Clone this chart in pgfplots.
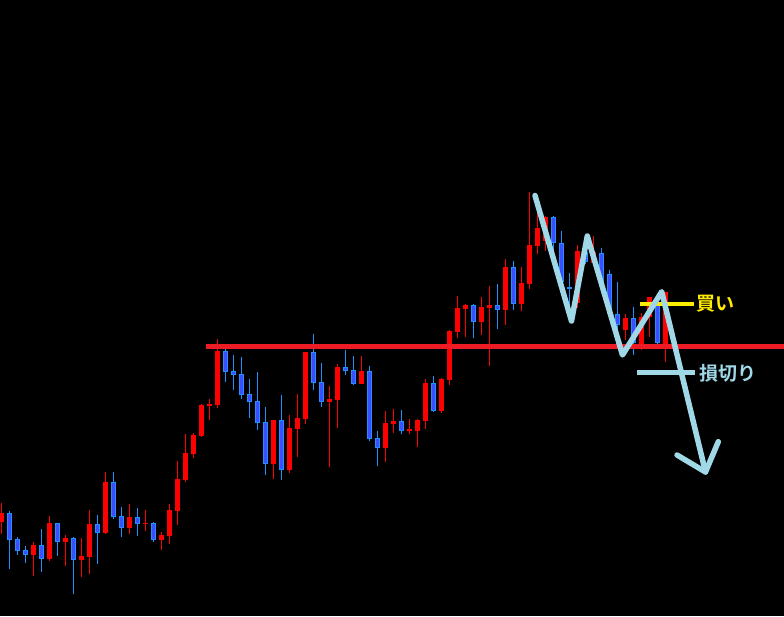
\documentclass[border=0pt]{standalone}
\usepackage{pgfplots}
\usepackage{pgfplotstable}
\usepackage{fontspec}
\pgfplotsset{compat=1.18}
\newfontfamily\cjk[BoldFont={Noto Sans CJK JP Bold}]{Noto Sans CJK JP}

\definecolor{upRed}{RGB}{255,0,0}
\definecolor{downEdge}{RGB}{30,144,255}
\definecolor{downFill}{RGB}{64,76,255}
\definecolor{levelRed}{RGB}{237,28,36}
\definecolor{buyYellow}{RGB}{255,236,0}
\definecolor{pathBlue}{RGB}{160,216,232}

% candles: index, open, high, low, close
\pgfplotstableread{
i o h l c
0 94.3 113.3 82 103.3
4 61 74 40.3 71
6 57 100 55.3 93
8 74 80.7 50 78
10 56.3 78 39.3 60
11 59 106 42.3 92
13 83 144 82.3 134
16 88.3 112 82 99
18 92.4 106 85 93
20 76 84 66 81
21 80 112 72.3 106
22 105.3 155 91.3 137
23 136 182 134.3 163
24 162.3 183 158.3 181
25 180 212 179 211
26 210 217 196 212
27 211 277 208.3 265
34 152.3 196 137 196
36 146.3 201 143.3 188
37 187.3 222 159.3 198
38 197 264 192 264
41 214.3 230 149.3 217
42 216.3 252 188.3 249
45 232 260 232 245
48 168.3 205 154.3 193
49 192.3 207 183.3 195
51 185.5 197 182.3 186.5
52 185.3 197 169.3 196
53 195.3 237 187.3 233
55 205 238 203.3 237
56 236.3 286 231.3 285
57 284.3 320 278.3 308
58 307 312 279.3 310.7
60 294.3 319 281.3 309
61 308 330 250.3 311
63 306.3 357 291.3 349
65 312.3 349 305.3 333
66 332 424 327.3 371
67 370 403 362 388
68 375 400 365 399
72 313 371 308 365
74 353 380 350 364
78 286 301.7 276 297.7
80 271 303 266 299.3
81 299.3 319.3 279.3 319.3
83 271 324.3 254.3 324.3
}\upcandles

\pgfplotstableread{
i o h l c
1 103 105 47 76.3
2 77 78.7 61 65.3
3 66 70 53.3 61.3
5 71 87 44.3 57.3
7 93 93 60 74.3
9 78 79.3 22.3 56.3
12 92 101 52.3 83.3
14 134 144 97.3 99.3
15 100 109 79.3 88.3
17 99 108 80 92.3
19 93 94 74.3 76
28 265 267 234.3 244.3
29 245 261 226 241.3
30 242 259 217 221.3
31 222 237 198 214.3
32 215 244 186 193.3
33 194 209 141 152.3
35 196 221 136.3 146.3
39 264 282 226 233.3
40 234 253 209 214.3
43 249 266 241 245.3
44 246 260 231 232
46 245 250 175 177
47 178 185 150 168.3
50 195 206 182.3 185.3
54 233 240 204.3 205.3
59 310.7 312 278.3 294.3
62 311 332 287.3 306.3
64 349 355 306.3 312.3
69 398.7 400 366 372.7
70 372.7 385 326 334.3
71 328.7 342.7 311 326.7
73 364.3 371 352 354.3
75 362.7 368.3 328 333
76 341.7 346 298 301.7
77 301.7 334.3 286 291
79 297.7 309.3 261 273
82 312.7 316 268 272.7
}\downcandles

\pgfplotsset{
  wick/.style={draw=none, forget plot, error bars/.cd, y dir=both, y explicit,
    error mark=none, error bar style={draw=#1, line width=1pt}},
  body/.style 2 args={draw=none, forget plot, error bars/.cd, y dir=both, y explicit,
    error mark=none, error bar style={draw=#1, line width=#2}},
}

\begin{document}
\begin{tikzpicture}
\begin{axis}[
    width=784pt, height=616pt, scale only axis,
    xmin=0, xmax=784, ymin=0, ymax=616,
    axis background/.style={fill=black},
    axis line style={draw=none},
    ticks=none,
  ]
  % wicks
  \addplot[wick=upRed] table[x expr=\thisrow{i}*8+1.3, y expr=(\thisrow{h}+\thisrow{l})/2,
    y error expr=(\thisrow{h}-\thisrow{l})/2] {\upcandles};
  \addplot[wick=downEdge] table[x expr=\thisrow{i}*8+1.3, y expr=(\thisrow{h}+\thisrow{l})/2,
    y error expr=(\thisrow{h}-\thisrow{l})/2] {\downcandles};
  % bodies
  \addplot[body={upRed}{5pt}] table[x expr=\thisrow{i}*8+1.3, y expr=(\thisrow{o}+\thisrow{c})/2,
    y error expr={max(abs(\thisrow{o}-\thisrow{c})/2,0.6)}] {\upcandles};
  \addplot[body={downEdge}{5pt}] table[x expr=\thisrow{i}*8+1.3, y expr=(\thisrow{o}+\thisrow{c})/2,
    y error expr={max(abs(\thisrow{o}-\thisrow{c})/2,0.6)}] {\downcandles};
  \addplot[body={downFill}{3pt}] table[x expr=\thisrow{i}*8+1.3, y expr=(\thisrow{o}+\thisrow{c})/2,
    y error expr={max(abs(\thisrow{o}-\thisrow{c})/2-1,0)}] {\downcandles};

  % level line
  \addplot[levelRed, line width=4.7pt, forget plot] coordinates {(206,269.7) (784,269.7)};
  % buy and stop lines
  \addplot[buyYellow, line width=4.5pt, forget plot] coordinates {(640,312.2) (694,312.2)};
  \addplot[pathBlue, line width=5pt, forget plot] coordinates {(637,243) (695,243)};
  % expected path
  \addplot[pathBlue, line width=5.5pt, line join=round, line cap=round, forget plot] coordinates {
    (535,420.5) (571.5,295) (587.3,380) (622.5,261) (661.7,324.3) (705.5,144)};
  \addplot[pathBlue, line width=5.5pt, line join=round, line cap=round, forget plot] coordinates {
    (677,161) (705.5,144) (718.3,174.3)};

  \node[anchor=west, inner sep=0pt, text=buyYellow, font=\cjk\bfseries\fontsize{19}{19}\selectfont]
    at (axis cs:696,312.5) {買い};
  \node[anchor=west, inner sep=0pt, text=pathBlue, font=\cjk\bfseries\fontsize{19}{19}\selectfont]
    at (axis cs:699,243) {損切り};
\end{axis}
\end{tikzpicture}
\end{document}
